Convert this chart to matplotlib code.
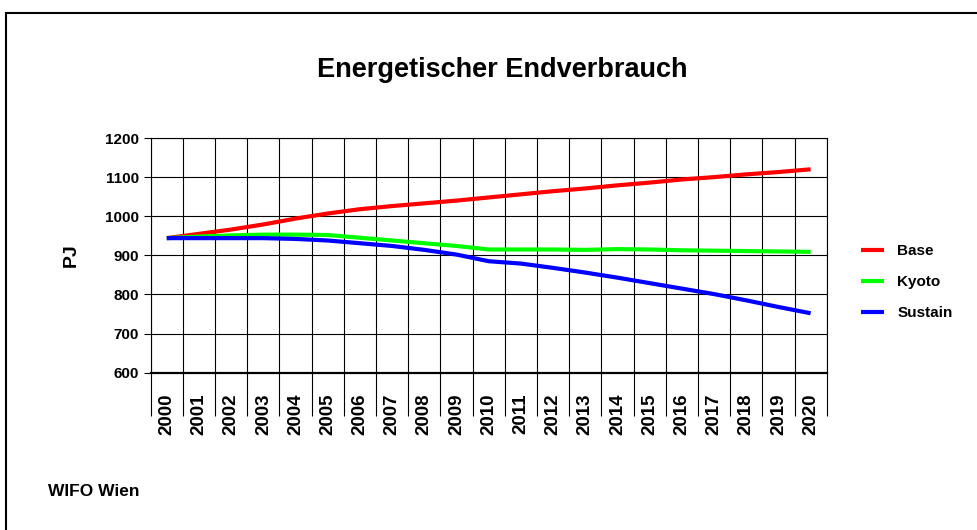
import matplotlib
matplotlib.use('Agg')
import matplotlib.pyplot as plt
from matplotlib.patches import Rectangle
import numpy as np

plt.rcParams['font.family'] = ['Liberation Sans', 'DejaVu Sans']
plt.rcParams['font.weight'] = 'bold'

years = list(range(2000, 2021))
base = [944, 955, 966, 979, 994, 1007, 1018, 1026, 1033, 1040, 1048,
        1056, 1064, 1071, 1079, 1086, 1094, 1100, 1107, 1113, 1120]
kyoto = [944, 948, 951, 953, 953, 952, 945, 938, 931, 924, 915,
         915, 915, 914, 916, 915, 913, 912, 911, 910, 909]
sustain = [944, 944, 944, 944, 942, 938, 931, 924, 914, 902, 885,
           879, 868, 856, 843, 829, 815, 801, 785, 768, 752]
series = [("Base", base, "#ff0000"),
          ("Kyoto", kyoto, "#00ff00"),
          ("Sustain", sustain, "#0000ff")]

fig = plt.figure(figsize=(9.78, 5.3), dpi=100)
ax = fig.add_axes([0.1541, 0.2968, 0.6912, 0.4428])

x = np.arange(len(years))
for name, vals, col in series:
    ax.plot(x, vals, color=col, lw=3, label=name, solid_capstyle='butt')

ax.set_xlim(-0.5, len(years) - 0.5)
ax.set_ylim(600, 1200)
ax.set_yticks(range(600, 1201, 100))
ax.set_xticks(x)
ax.set_xticklabels([str(y) for y in years], rotation=90, fontsize=13.5, fontweight='bold')
ax.set_xticks(np.arange(-0.5, len(years)), minor=True)
ax.tick_params(axis='x', which='major', length=0, pad=15)
ax.tick_params(axis='x', which='minor', length=31, width=0.8, direction='out')
ax.tick_params(axis='y', which='major', length=5, width=0.8, labelsize=11)
for lab in ax.get_yticklabels():
    lab.set_fontweight('bold')
ax.grid(True, axis='y', which='major', color='black', lw=0.8)
ax.grid(True, axis='x', which='minor', color='black', lw=0.8)
ax.set_axisbelow(True)
for sp in ax.spines.values():
    sp.set_linewidth(0.8)
ax.spines['bottom'].set_linewidth(1.6)

ax.set_ylabel("PJ", fontsize=14, fontweight='bold', labelpad=18)

fig.text(0.514, 0.868, "Energetischer Endverbrauch", ha='center', va='center',
         fontsize=19.5, fontweight='bold')
fig.text(0.049, 0.072, "WIFO Wien", ha='left', va='center', fontsize=12.5, fontweight='bold')

ax.legend(loc='center left', bbox_to_anchor=(1.03, 0.386), frameon=False,
          fontsize=11, handlelength=1.5, handletextpad=0.9, labelspacing=1.1)

fig.patches.append(Rectangle((6 / 978, -0.1), 1.2, 1 - 13 / 530 + 0.1,
                             transform=fig.transFigure, fill=False,
                             edgecolor='black', lw=1.5))

fig.savefig("out.png", dpi=100)
